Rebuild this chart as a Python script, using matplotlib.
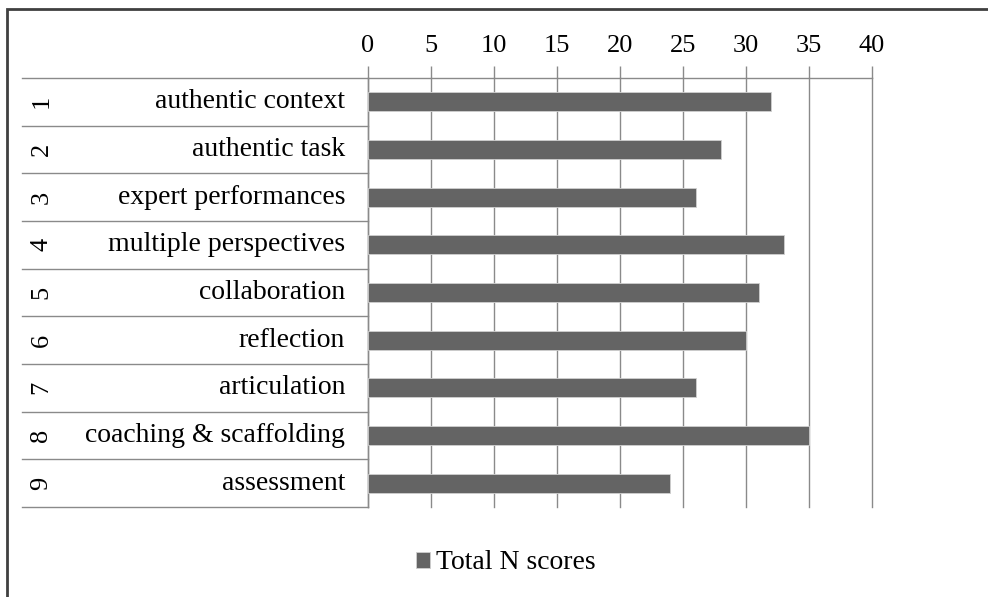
import matplotlib.pyplot as plt
import matplotlib.transforms as mtransforms
from matplotlib.patches import Rectangle
import numpy as np

categories = ["authentic context", "authentic task", "expert performances",
              "multiple perspectives", "collaboration", "reflection",
              "articulation", "coaching & scaffolding", "assessment"]
numbers = ["1", "2", "3", "4", "5", "6", "7", "8", "9"]
scores = [32, 28, 26, 33, 31, 30, 26, 35, 24]
xticks = [0, 5, 10, 15, 20, 25, 30, 35, 40]

plt.rcParams['font.family'] = ['Liberation Serif', 'DejaVu Serif']

fig = plt.figure(figsize=(9.88, 5.97), dpi=100)
ax = fig.add_axes([0.3725, 0.1508, 0.5101, 0.7185])

y = np.arange(len(categories))
bar_color = '#646464'
grid_color = '#8a8a8a'

ax.barh(y, scores, height=0.4, color=bar_color, edgecolor='#d0d0d0',
        linewidth=0.6, zorder=3, label='Total N scores')

ax.set_xlim(0, 40)
ax.set_ylim(len(categories) - 0.5, -0.5)
ax.set_xticks(xticks)
ax.xaxis.tick_top()
ax.tick_params(axis='x', length=9, width=1, color=grid_color,
               labelsize=19, pad=6, direction='out')
ax.set_yticks([])
ax.grid(axis='x', color=grid_color, linewidth=1, zorder=1)
for gl in ax.get_xgridlines():
    gl.set_clip_on(False)

for side in ['right', 'bottom']:
    ax.spines[side].set_visible(False)
for side in ['top', 'left']:
    ax.spines[side].set_color(grid_color)
    ax.spines[side].set_linewidth(1)

# label table on the left
trans = mtransforms.blended_transform_factory(ax.transAxes, ax.transData)
x_left = -0.6865
for b in np.arange(-0.5, len(categories), 1.0):
    ax.plot([x_left, 0], [b, b], color=grid_color, linewidth=1,
            transform=trans, clip_on=False)

for i, (num, cat) in enumerate(zip(numbers, categories)):
    ax.text(-0.0456, i, cat, transform=trans, ha='right', va='center',
            fontsize=20)
    ax.text(-0.648, i, num, transform=trans, ha='center', va='center',
            fontsize=19, rotation=90)

# legend
fig.legend(loc='center', bbox_to_anchor=(0.512, 0.057), frameon=False,
           fontsize=20, handlelength=0.5, handleheight=0.5,
           handletextpad=0.2)

# outer chart frame (left/top visible)
fig.patches.append(Rectangle((0.007, -0.05), 1.1, 1.035, transform=fig.transFigure,
                             fill=False, edgecolor='#404040', linewidth=2))

fig.savefig('out.png', dpi=100)
